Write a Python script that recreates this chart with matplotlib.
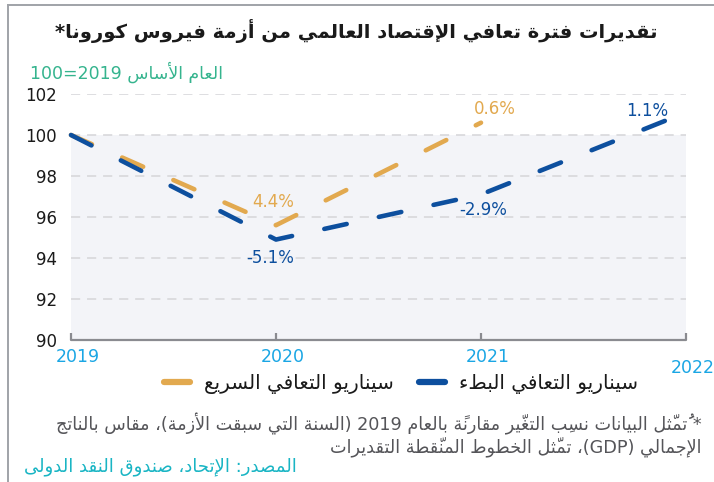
import matplotlib
matplotlib.use("Agg")
import matplotlib.pyplot as plt
from matplotlib.lines import Line2D
import matplotlib.transforms as mtransforms

# ---------------- data ----------------
years = [2019, 2020, 2021, 2022]
year_labels = ["2019", "2020", "2021", "2022"]
fast_years = [2019, 2020, 2021]
fast_values = [100.0, 95.6, 100.6]
slow_years = [2019, 2020, 2021, 2022]
slow_values = [100.0, 94.9, 97.1, 101.1]
fast_point_labels = ["4.4%", "0.6%"]
slow_point_labels = ["-5.1%", "-2.9%", "1.1%"]
yticks = [90, 92, 94, 96, 98, 100, 102]

title = "تقديرات فترة تعافي الإقتصاد العالمي من أزمة فيروس كورونا*"
subtitle = "العام الأساس 2019=100"
legend_fast = "سيناريو التعافي السريع"
legend_slow = "سيناريو التعافي البطء"
note1 = "* تُمثّل البيانات نسبِ التغيّر مقارنةً بالعام 2019 (السنة التي سبقت الأزمة)، مقاس بالناتج"
note2 = "الإجمالي (GDP)، تمثّل الخطوط المنقّطة التقديرات"
source = "المصدر: الإتحاد، صندوق النقد الدولى"

# ---------------- simple Arabic shaping + bidi ----------------
DUAL = {'ئ': 0xFE89, 'ب': 0xFE8F, 'ت': 0xFE95, 'ث': 0xFE99, 'ج': 0xFE9D, 'ح': 0xFEA1,
        'خ': 0xFEA5, 'س': 0xFEB1, 'ش': 0xFEB5, 'ص': 0xFEB9, 'ض': 0xFEBD, 'ط': 0xFEC1,
        'ظ': 0xFEC5, 'ع': 0xFEC9, 'غ': 0xFECD, 'ف': 0xFED1, 'ق': 0xFED5, 'ك': 0xFED9,
        'ل': 0xFEDD, 'م': 0xFEE1, 'ن': 0xFEE5, 'ه': 0xFEE9, 'ي': 0xFEF1}
RIGHT = {'آ': 0xFE81, 'أ': 0xFE83, 'ؤ': 0xFE85, 'إ': 0xFE87, 'ا': 0xFE8D, 'ة': 0xFE93,
         'د': 0xFEA9, 'ذ': 0xFEAB, 'ر': 0xFEAD, 'ز': 0xFEAF, 'و': 0xFEED, 'ى': 0xFEEF}
NONJ = {'ء': 0xFE80}
LAMALEF = {'آ': 0xFEF5, 'أ': 0xFEF7, 'إ': 0xFEF9, 'ا': 0xFEFB}
MIRROR = {'(': ')', ')': '(', '[': ']', ']': '['}


def is_mark(c):
    o = ord(c)
    return 0x064B <= o <= 0x0652 or o == 0x0670


def is_arabic(c):
    return c in DUAL or c in RIGHT or c in NONJ


def shape(text):
    chars = list(text)
    n = len(chars)

    def prev_base(i):
        j = i - 1
        while j >= 0 and is_mark(chars[j]):
            j -= 1
        return j

    def next_base(i):
        j = i + 1
        while j < n and is_mark(chars[j]):
            j += 1
        return j

    out = []
    skip = set()
    for i, c in enumerate(chars):
        if i in skip:
            continue
        if not is_arabic(c):
            out.append(c)
            continue
        p = prev_base(i)
        q = next_base(i)
        join_prev = p >= 0 and chars[p] in DUAL and c not in NONJ
        nxt = chars[q] if q < n else None
        if c == 'ل' and nxt in LAMALEF:
            base = LAMALEF[nxt]
            out.append(chr(base + (1 if join_prev else 0)))
            for k in range(i + 1, q):
                out.append(chars[k])
            skip.update(range(i + 1, q + 1))
            continue
        join_next = c in DUAL and nxt is not None and is_arabic(nxt) and nxt not in NONJ
        if c in DUAL:
            b = DUAL[c]
            if join_prev and join_next:
                out.append(chr(b + 3))
            elif join_prev:
                out.append(chr(b + 1))
            elif join_next:
                out.append(chr(b + 2))
            else:
                out.append(chr(b))
        elif c in RIGHT:
            b = RIGHT[c]
            out.append(chr(b + 1) if join_prev else chr(b))
        else:
            out.append(chr(NONJ[c]))
    return out


def visual(text):
    shaped = shape(text)
    clusters = []
    for c in shaped:
        if is_mark(c) and clusters:
            clusters[-1] += c
        else:
            clusters.append(c)

    def is_ltr(cl):
        ch = cl[0]
        return ch.isascii() and ch.isalnum()

    runs = []
    for cl in clusters:
        t = 'L' if is_ltr(cl) else 'R'
        if runs and runs[-1][0] == t:
            runs[-1][1].append(cl)
        else:
            runs.append([t, [cl]])
    res = []
    for t, cls in reversed(runs):
        if t == 'L':
            res.extend(cls)
        else:
            for cl in reversed(cls):
                res.append(MIRROR.get(cl, cl))
    return ''.join(res)


# ---------------- figure ----------------
plt.rcParams['font.family'] = ['DejaVu Sans']
W, H = 714, 482
fig = plt.figure(figsize=(W / 100, H / 100), dpi=100)
fig.patch.set_facecolor('white')

ax = fig.add_axes([71 / W, 1 - 340 / H, (686 - 71) / W, (340 - 94) / H])
ax.set_xlim(2019, 2022)
ax.set_ylim(90, 102)
ax.set_facecolor('white')
ax.axhspan(90, 100, color='#f3f4f8', zorder=0, lw=0)
for v in yticks[1:]:
    ax.axhline(v, color='#d5d5d8', lw=1.1, ls=(0, (6, 4.5)), zorder=1)

for s in ['top', 'right', 'left']:
    ax.spines[s].set_visible(False)
ax.spines['bottom'].set_color('#8a8b90')
ax.spines['bottom'].set_linewidth(1.6)
ax.spines['bottom'].set_capstyle('round')

ax.set_yticks(yticks)
ax.set_yticklabels([str(v) for v in yticks], fontsize=12, color='#1a1a1a')
ax.tick_params(axis='y', length=0, pad=10)
ax.set_xticks(years)
ax.set_xticklabels([])
ax.tick_params(axis='x', direction='in', length=5, width=1.6, color='#8a8b90')

blue = '#0d4f9e'
orange = '#e2a94f'
lw = 3.3
ax.plot(fast_years, fast_values, color=orange, lw=lw, dashes=(5.0, 7.2),
        dash_capstyle='round', zorder=3, clip_on=False)
ax.plot(slow_years, slow_values, color=blue, lw=lw, dashes=(5.0, 7.2),
        dash_capstyle='round', zorder=4, clip_on=False)

# point labels (offsets in points)
fast_offsets = [(-2, 17), (10, 10)]
for lab, x, y, off in zip(fast_point_labels, fast_years[1:], fast_values[1:], fast_offsets):
    ax.annotate(lab, (x, y), xytext=off, textcoords='offset points', ha='center', va='center',
                fontsize=12, color=orange, annotation_clip=False)
slow_offsets = [(-4, -13), (1.5, -11.5), (-28, 1)]
for lab, x, y, off in zip(slow_point_labels, slow_years[1:], slow_values[1:], slow_offsets):
    ax.annotate(lab, (x, y), xytext=off, textcoords='offset points', ha='center', va='center',
                fontsize=12, color=blue, annotation_clip=False)

# x labels
tr = mtransforms.blended_transform_factory(ax.transData, fig.transFigure)
for i, (yr, lab) in enumerate(zip(years, year_labels)):
    ypix = 368 if i == len(years) - 1 else 357
    off = mtransforms.offset_copy(tr, fig=fig, x=7, y=0, units='dots')
    fig.text(yr, 1 - ypix / H, lab, transform=off, ha='center', va='center',
             fontsize=12.5, color='#1aa6e4')

# frame lines
fig.add_artist(Line2D([8 / W, 8 / W], [0, 1 - 5 / H], color='#a0a3a8', lw=1.4))
fig.add_artist(Line2D([8 / W, 1], [1 - 5 / H, 1 - 5 / H], color='#a0a3a8', lw=1.4))

# titles
fig.text(356 / W, 1 - 31 / H, visual(title), ha='center', va='center', fontsize=14,
         fontweight='bold', color='#1a1a1a')
fig.text(30 / W, 1 - 72 / H, visual(subtitle), ha='left', va='center', fontsize=12.5,
         color='#35b48e')

# legend
handles = [Line2D([], [], color=orange, lw=4.5, solid_capstyle='round'),
           Line2D([], [], color=blue, lw=4.5, solid_capstyle='round')]
fig.legend(handles, [visual(legend_fast), visual(legend_slow)], ncol=2,
           loc='center', bbox_to_anchor=(401 / W, 1 - 384 / H), frameon=False,
           fontsize=14.3, handlelength=1.3, handletextpad=0.7, columnspacing=1.3,
           labelcolor='#1a1a1a')

# notes
fig.text(702 / W, 1 - 424 / H, visual(note1), ha='right', va='center', fontsize=12.7,
         color='#555559')
fig.text(702 / W, 1 - 447 / H, visual(note2), ha='right', va='center', fontsize=12.7,
         color='#555559')
fig.text(24 / W, 1 - 467 / H, visual(source), ha='left', va='center', fontsize=13,
         color='#19b5c4')

fig.savefig('out.png', dpi=100, facecolor='white')
